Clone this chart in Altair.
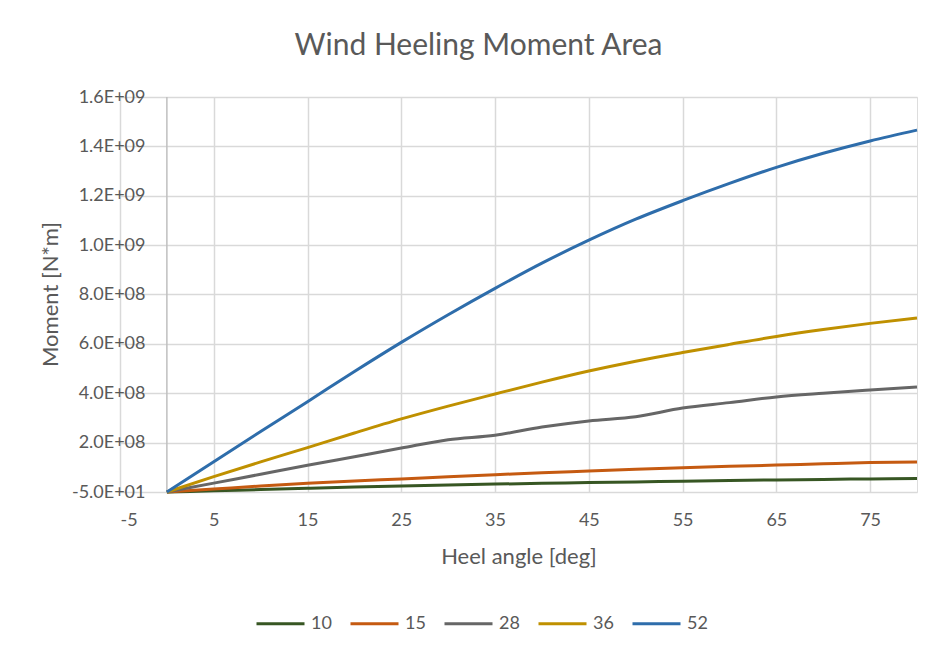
import altair as alt
import pandas as pd

# Heel angle samples (deg)
angles = [0, 5, 10, 15, 20, 25, 30, 35, 40, 45, 50, 55, 60, 65, 70, 75, 80]

# Wind heeling moment (N*m) for each wind speed
m10 = [0, 5.0e6, 1.0e7, 1.5e7, 2.0e7, 2.4e7, 2.8e7, 3.2e7, 3.5e7, 3.8e7,
       4.1e7, 4.4e7, 4.7e7, 4.9e7, 5.1e7, 5.3e7, 5.45e7]
m15 = [0, 1.2e7, 2.4e7, 3.5e7, 4.5e7, 5.3e7, 6.2e7, 7.0e7, 7.8e7, 8.5e7,
       9.2e7, 9.8e7, 1.04e8, 1.09e8, 1.14e8, 1.19e8, 1.22e8]
m28 = [0, 3.6e7, 7.2e7, 1.08e8, 1.43e8, 1.78e8, 2.12e8, 2.30e8, 2.63e8, 2.88e8,
       3.05e8, 3.40e8, 3.62e8, 3.85e8, 4.00e8, 4.13e8, 4.25e8]
m36 = [0, 6.2e7, 1.22e8, 1.80e8, 2.39e8, 2.96e8, 3.48e8, 3.97e8, 4.45e8, 4.90e8,
       5.30e8, 5.65e8, 5.98e8, 6.30e8, 6.58e8, 6.83e8, 7.05e8]
m52 = [0, 1.23e8, 2.45e8, 3.66e8, 4.88e8, 6.06e8, 7.18e8, 8.25e8, 9.27e8, 1.02e9,
       1.105e9, 1.18e9, 1.25e9, 1.315e9, 1.372e9, 1.422e9, 1.466e9]

series_names = ["10", "15", "28", "36", "52"]
series_values = [m10, m15, m28, m36, m52]
series_colors = ["#375623", "#C55A11", "#666666", "#BF9000", "#2E6DAB"]

x_ticks = [-5, 5, 15, 25, 35, 45, 55, 65, 75]
y_ticks = [-50, 2e8, 4e8, 6e8, 8e8, 1.0e9, 1.2e9, 1.4e9, 1.6e9]

rows = []
for name, vals in zip(series_names, series_values):
    for a, v in zip(angles, vals):
        rows.append({"angle": a, "moment": v, "series": name})
df = pd.DataFrame(rows)

TEXT = "#595959"
FONT = "Lato"

# Scientific label format like 2.0E+08
exp_expr = "floor(log(abs(datum.value)) / LN10 + 1e-9)"
label_expr = (
    "(datum.value < 0 ? '-' : '') + format(abs(datum.value) / pow(10, " + exp_expr + "), '.1f')"
    " + 'E+' + (" + exp_expr + " < 10 ? '0' : '') + " + exp_expr
)

x_scale = alt.Scale(domain=[-5, 80], nice=False, zero=False)
y_scale = alt.Scale(domain=[-50, 1.6e9], nice=False, zero=False)

lines = alt.Chart(df).mark_line(strokeWidth=3, interpolate="monotone").encode(
    x=alt.X(
        "angle:Q",
        scale=x_scale,
        axis=alt.Axis(
            values=x_ticks,
            labelExpr="'' + datum.value",
            title="Heel angle [deg]",
            grid=True,
            gridColor="#D9D9D9",
            gridWidth=1.5,
            domain=False,
            ticks=False,
            labelPadding=19,
            labelFontSize=18,
            labelColor=TEXT,
            labelFont=FONT,
            titleFontSize=22,
            titleFont=FONT,
            titleColor=TEXT,
            titleFontWeight="normal",
            titleY=64,
            titleBaseline="middle",
        ),
    ),
    y=alt.Y(
        "moment:Q",
        scale=y_scale,
        axis=alt.Axis(
            values=y_ticks,
            labelExpr=label_expr,
            title="Moment [N*m]",
            grid=True,
            gridColor="#D9D9D9",
            gridWidth=1.5,
            domain=False,
            ticks=False,
            labelPadding=-25,
            labelFontSize=18,
            labelColor=TEXT,
            labelFont=FONT,
            titleFontSize=22,
            titleFont=FONT,
            titleColor=TEXT,
            titleFontWeight="normal",
            titleX=-70,
            titleY=197,
            titleAngle=270,
            titleAlign="center",
            titleBaseline="middle",
        ),
    ),
    color=alt.Color(
        "series:N",
        sort=series_names,
        scale=alt.Scale(domain=series_names, range=series_colors),
        legend=alt.Legend(
            title=None,
            orient="none",
            legendX=135,
            legendY=501,
            direction="horizontal",
            columns=5,
            columnPadding=12,
            padding=0,
            symbolType="stroke",
            symbolSize=2304,
            symbolStrokeWidth=3,
            labelFontSize=18,
            labelFont=FONT,
            labelColor=TEXT,
            labelOffset=5,
        ),
    ),
)

# Value axis line crossing at 0 deg
zero_axis = alt.Chart(pd.DataFrame({"angle": [0]})).mark_rule(
    color="#BFBFBF", strokeWidth=1.5
).encode(x=alt.X("angle:Q", scale=x_scale))

chart = alt.layer(zero_axis, lines).properties(
    width=797,
    height=395,
    title=alt.TitleParams(
        "Wind Heeling Moment Area",
        fontSize=30,
        font=FONT,
        fontWeight="normal",
        color=TEXT,
        anchor="middle",
        frame="group",
        dx=-40,
        offset=27,
    ),
    autosize=alt.AutoSizeParams(type="none"),
    padding={"left": 120, "top": 97, "right": 31, "bottom": 163},
).configure_view(stroke=None).configure(background="white")

chart.save("out.html", embed_options={"renderer": "svg", "actions": False})
